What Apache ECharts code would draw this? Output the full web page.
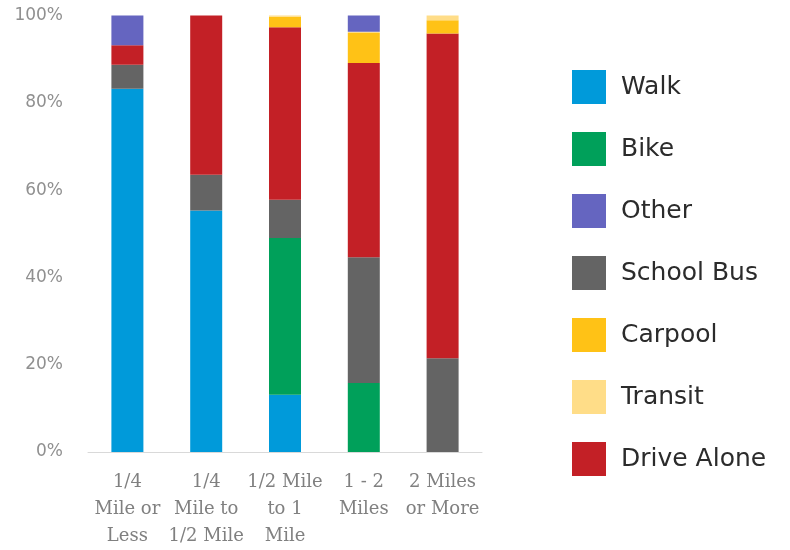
<!DOCTYPE html>
<html>
<head>
<meta charset="utf-8">
<script src="https://cdn.jsdelivr.net/npm/echarts@6/dist/echarts.min.js"></script>
<style>html,body{margin:0;padding:0;background:#fff}#c{width:790px;height:550px}</style>
</head>
<body>
<div id="c"></div>
<script>
const categories = ['1/4\nMile or\nLess', '1/4\nMile to\n1/2 Mile', '1/2 Mile\nto 1\nMile', '1 - 2\nMiles', '2 Miles\nor More'];
const walk = [83.2, 55.3, 13.1, 0, 0];
const bike = [0, 0, 35.9, 15.8, 0];
const schoolBus = [5.5, 8.2, 8.8, 28.8, 21.5];
const driveAlone = [4.5, 36.5, 39.5, 44.5, 74.4];
const carpool = [0, 0, 2.4, 6.9, 3.0];
const transit = [0, 0, 0.3, 0.3, 1.1];
const other = [6.8, 0, 0, 3.7, 0];
const legendOrder = ['Walk', 'Bike', 'Other', 'School Bus', 'Carpool', 'Transit', 'Drive Alone'];
const yTicks = [0, 20, 40, 60, 80, 100];

const seriesDefs = [
  ['Walk', walk, '#009ADA'],
  ['Bike', bike, '#00A05A'],
  ['School Bus', schoolBus, '#646464'],
  ['Drive Alone', driveAlone, '#C32026'],
  ['Carpool', carpool, '#FFC216'],
  ['Transit', transit, '#FFDD88'],
  ['Other', other, '#6565C0']
];

const chart = echarts.init(document.getElementById('c'), null, {renderer: 'canvas'});
chart.setOption({
  animation: false,
  grid: {left: 88, right: 308, top: 15.5, bottom: 98, containLabel: false},
  legend: {
    orient: 'vertical', left: 572, top: 70, padding: 0,
    itemWidth: 34, itemHeight: 34, itemGap: 28,
    icon: 'rect',
    data: legendOrder,
    textStyle: {fontFamily: 'DejaVu Sans', fontSize: 25, color: '#2b2b2b', padding: [0, 0, 0, 10]}
  },
  xAxis: {
    type: 'category', data: categories,
    axisLine: {lineStyle: {color: '#d9d9d9', width: 1}},
    axisTick: {show: false},
    axisLabel: {interval: 0, fontFamily: 'DejaVu Serif', fontSize: 18, color: '#808080', lineHeight: 27, margin: 17}
  },
  yAxis: {
    type: 'value', min: yTicks[0], max: yTicks[yTicks.length - 1], interval: 20,
    axisLine: {show: false}, axisTick: {show: false}, splitLine: {show: false},
    axisLabel: {formatter: v => v + '%', fontFamily: 'DejaVu Sans', fontSize: 17, color: '#909090', margin: 25}
  },
  series: seriesDefs.map(([name, data, color]) => ({
    name, type: 'bar', stack: 'total', data, barWidth: 32,
    itemStyle: {color}
  }))
});
</script>
</body>
</html>
